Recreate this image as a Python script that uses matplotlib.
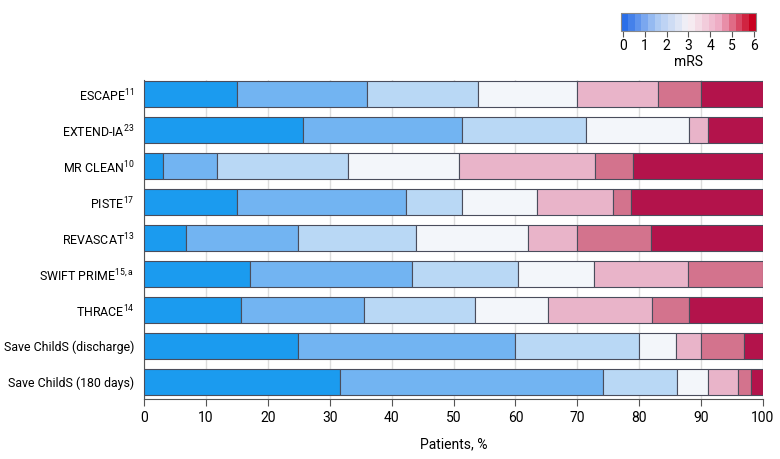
import numpy as np
import matplotlib
matplotlib.use('Agg')
import matplotlib.pyplot as plt
from matplotlib.colors import LinearSegmentedColormap, Normalize
import matplotlib.cm as cm

plt.rcParams['font.family'] = ['Roboto', 'DejaVu Sans']
plt.rcParams['mathtext.fontset'] = 'custom'
plt.rcParams['mathtext.rm'] = 'Roboto'
plt.rcParams['mathtext.it'] = 'Roboto'

# Trial labels (superscripts as mathtext)
trials = ['ESCAPE$^{11}$', 'EXTEND-IA$^{23}$', 'MR CLEAN$^{10}$', 'PISTE$^{17}$',
          'REVASCAT$^{13}$', 'SWIFT PRIME$^{15,\\mathrm{a}}$', 'THRACE$^{14}$',
          'Save ChildS (discharge)', 'Save ChildS (180 days)']

# Cumulative share of patients (%) at upper edge of each mRS 0..5 (mRS 6 runs to 100)
cum_escape = [15, 36, 54, 70, 83, 90]
cum_extend = [25.7, 51.4, 71.4, 88.1, 91.1, 91.1]
cum_mrclean = [3, 11.8, 32.9, 50.9, 72.9, 79]
cum_piste = [15, 42.3, 51.4, 63.5, 75.7, 78.7]
cum_revascat = [6.8, 24.9, 43.9, 62, 69.9, 81.9]
cum_swift = [17.1, 43.3, 60.5, 72.7, 87.9, 100]
cum_thrace = [15.7, 35.6, 53.4, 65.3, 82.1, 88.1]
cum_save_dis = [24.9, 60, 80, 86, 90, 96.9]
cum_save_180 = [31.6, 74.2, 86.1, 91.1, 96, 98.1]

cumulative = [cum_escape, cum_extend, cum_mrclean, cum_piste, cum_revascat,
              cum_swift, cum_thrace, cum_save_dis, cum_save_180]

mrs_colors = ['#1b9bef', '#72b4f2', '#b9d8f5', '#f3f6fa', '#e9b4c9', '#d3738d', '#b3134b']

fig = plt.figure(figsize=(7.8, 4.59), dpi=100)
ax = fig.add_axes([144 / 780, 1 - 399 / 459, (763 - 144) / 780, (399 - 80) / 459])

y = np.arange(len(trials))
for i, cum in enumerate(cumulative):
    edges = [0] + list(cum) + [100]
    for k in range(7):
        w = edges[k + 1] - edges[k]
        if w <= 0:
            continue
        ax.barh(y[i], w, left=edges[k], height=0.74, color=mrs_colors[k],
                edgecolor='#4a4d5c', linewidth=0.8, zorder=3)

ax.set_xlim(0, 100)
ax.set_ylim(8.47, -0.39)
ax.set_xticks(np.arange(0, 101, 10))
ax.set_yticks(y)
ax.set_yticklabels(trials, fontsize=8.9)
ax.tick_params(axis='y', length=0, pad=7)
ax.tick_params(axis='x', labelsize=10, length=5, color='#555555', direction='out')
ax.xaxis.grid(True, color='#dddddd', linewidth=1, zorder=0)
ax.set_axisbelow(True)
for s in ['top', 'right']:
    ax.spines[s].set_visible(False)
ax.spines['left'].set_color('#555555')
ax.spines['bottom'].set_color('#555555')
ax.set_xlabel('Patients, %', fontsize=10, labelpad=9)

# Colorbar legend
cmap = LinearSegmentedColormap.from_list('mrs', ['#2a6ee8', '#a9c8f3', '#f7f3f6', '#eea9c2', '#c8001f'], N=20)
cax = fig.add_axes([621 / 780, 1 - 31 / 459, (756 - 621) / 780, 18 / 459])
sm = cm.ScalarMappable(norm=Normalize(-0.1, 6.1), cmap=cmap)
cb = fig.colorbar(sm, cax=cax, orientation='horizontal', ticks=range(7))
cb.outline.set_edgecolor('#888888')
cb.ax.tick_params(labelsize=10, length=4, color='#555555', pad=2)
cb.set_label('mRS', fontsize=10, labelpad=1)

fig.savefig('out.png', dpi=100)
